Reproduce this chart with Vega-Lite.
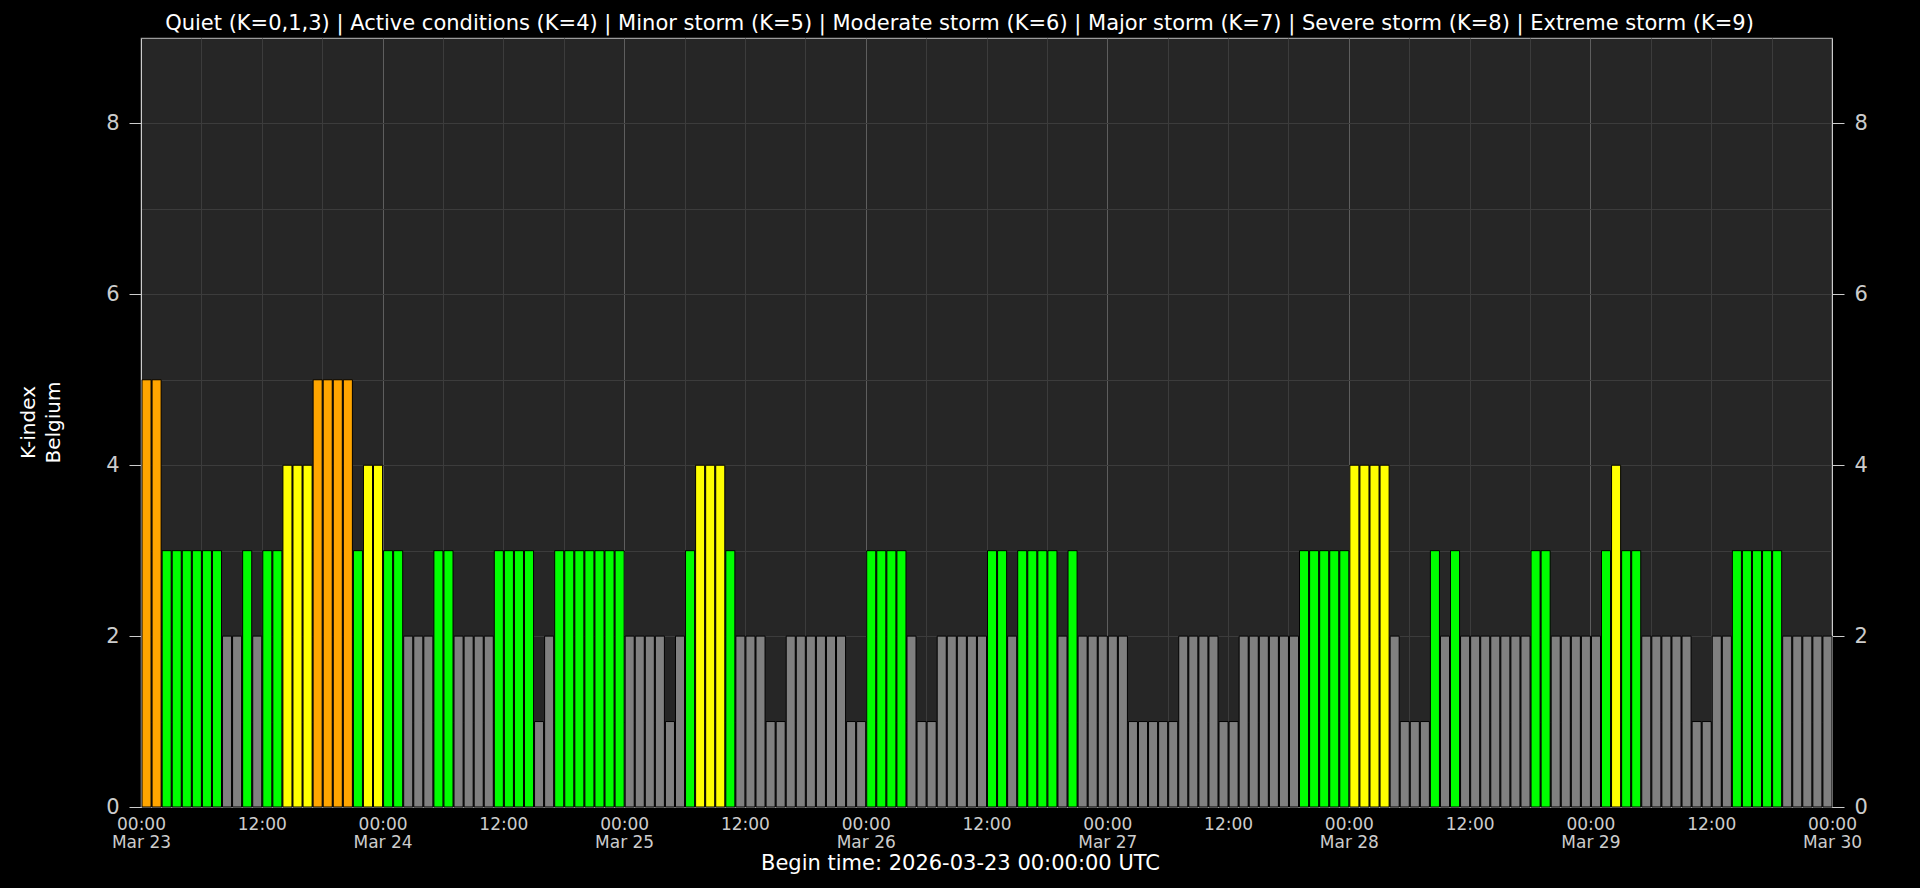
{
  "$schema": "https://vega.github.io/schema/vega-lite/v6.json",
  "width": 1691,
  "height": 769,
  "autosize": "none",
  "padding": {"left": 141, "top": 38, "right": 88, "bottom": 81},
  "background": "#000000",
  "config": {
    "font": "DejaVu Sans",
    "view": {"fill": "#262626", "stroke": "#9a9a9a", "strokeWidth": 1.2}
  },
  "data": {
    "values": [
      {"t": "2026-03-23T00:00:00Z", "k": 5}, {"t": "2026-03-23T01:00:00Z", "k": 5}, {"t": "2026-03-23T02:00:00Z", "k": 3}, {"t": "2026-03-23T03:00:00Z", "k": 3},
      {"t": "2026-03-23T04:00:00Z", "k": 3}, {"t": "2026-03-23T05:00:00Z", "k": 3}, {"t": "2026-03-23T06:00:00Z", "k": 3}, {"t": "2026-03-23T07:00:00Z", "k": 3},
      {"t": "2026-03-23T08:00:00Z", "k": 2}, {"t": "2026-03-23T09:00:00Z", "k": 2}, {"t": "2026-03-23T10:00:00Z", "k": 3}, {"t": "2026-03-23T11:00:00Z", "k": 2},
      {"t": "2026-03-23T12:00:00Z", "k": 3}, {"t": "2026-03-23T13:00:00Z", "k": 3}, {"t": "2026-03-23T14:00:00Z", "k": 4}, {"t": "2026-03-23T15:00:00Z", "k": 4},
      {"t": "2026-03-23T16:00:00Z", "k": 4}, {"t": "2026-03-23T17:00:00Z", "k": 5}, {"t": "2026-03-23T18:00:00Z", "k": 5}, {"t": "2026-03-23T19:00:00Z", "k": 5},
      {"t": "2026-03-23T20:00:00Z", "k": 5}, {"t": "2026-03-23T21:00:00Z", "k": 3}, {"t": "2026-03-23T22:00:00Z", "k": 4}, {"t": "2026-03-23T23:00:00Z", "k": 4},
      {"t": "2026-03-24T00:00:00Z", "k": 3}, {"t": "2026-03-24T01:00:00Z", "k": 3}, {"t": "2026-03-24T02:00:00Z", "k": 2}, {"t": "2026-03-24T03:00:00Z", "k": 2},
      {"t": "2026-03-24T04:00:00Z", "k": 2}, {"t": "2026-03-24T05:00:00Z", "k": 3}, {"t": "2026-03-24T06:00:00Z", "k": 3}, {"t": "2026-03-24T07:00:00Z", "k": 2},
      {"t": "2026-03-24T08:00:00Z", "k": 2}, {"t": "2026-03-24T09:00:00Z", "k": 2}, {"t": "2026-03-24T10:00:00Z", "k": 2}, {"t": "2026-03-24T11:00:00Z", "k": 3},
      {"t": "2026-03-24T12:00:00Z", "k": 3}, {"t": "2026-03-24T13:00:00Z", "k": 3}, {"t": "2026-03-24T14:00:00Z", "k": 3}, {"t": "2026-03-24T15:00:00Z", "k": 1},
      {"t": "2026-03-24T16:00:00Z", "k": 2}, {"t": "2026-03-24T17:00:00Z", "k": 3}, {"t": "2026-03-24T18:00:00Z", "k": 3}, {"t": "2026-03-24T19:00:00Z", "k": 3},
      {"t": "2026-03-24T20:00:00Z", "k": 3}, {"t": "2026-03-24T21:00:00Z", "k": 3}, {"t": "2026-03-24T22:00:00Z", "k": 3}, {"t": "2026-03-24T23:00:00Z", "k": 3},
      {"t": "2026-03-25T00:00:00Z", "k": 2}, {"t": "2026-03-25T01:00:00Z", "k": 2}, {"t": "2026-03-25T02:00:00Z", "k": 2}, {"t": "2026-03-25T03:00:00Z", "k": 2},
      {"t": "2026-03-25T04:00:00Z", "k": 1}, {"t": "2026-03-25T05:00:00Z", "k": 2}, {"t": "2026-03-25T06:00:00Z", "k": 3}, {"t": "2026-03-25T07:00:00Z", "k": 4},
      {"t": "2026-03-25T08:00:00Z", "k": 4}, {"t": "2026-03-25T09:00:00Z", "k": 4}, {"t": "2026-03-25T10:00:00Z", "k": 3}, {"t": "2026-03-25T11:00:00Z", "k": 2},
      {"t": "2026-03-25T12:00:00Z", "k": 2}, {"t": "2026-03-25T13:00:00Z", "k": 2}, {"t": "2026-03-25T14:00:00Z", "k": 1}, {"t": "2026-03-25T15:00:00Z", "k": 1},
      {"t": "2026-03-25T16:00:00Z", "k": 2}, {"t": "2026-03-25T17:00:00Z", "k": 2}, {"t": "2026-03-25T18:00:00Z", "k": 2}, {"t": "2026-03-25T19:00:00Z", "k": 2},
      {"t": "2026-03-25T20:00:00Z", "k": 2}, {"t": "2026-03-25T21:00:00Z", "k": 2}, {"t": "2026-03-25T22:00:00Z", "k": 1}, {"t": "2026-03-25T23:00:00Z", "k": 1},
      {"t": "2026-03-26T00:00:00Z", "k": 3}, {"t": "2026-03-26T01:00:00Z", "k": 3}, {"t": "2026-03-26T02:00:00Z", "k": 3}, {"t": "2026-03-26T03:00:00Z", "k": 3},
      {"t": "2026-03-26T04:00:00Z", "k": 2}, {"t": "2026-03-26T05:00:00Z", "k": 1}, {"t": "2026-03-26T06:00:00Z", "k": 1}, {"t": "2026-03-26T07:00:00Z", "k": 2},
      {"t": "2026-03-26T08:00:00Z", "k": 2}, {"t": "2026-03-26T09:00:00Z", "k": 2}, {"t": "2026-03-26T10:00:00Z", "k": 2}, {"t": "2026-03-26T11:00:00Z", "k": 2},
      {"t": "2026-03-26T12:00:00Z", "k": 3}, {"t": "2026-03-26T13:00:00Z", "k": 3}, {"t": "2026-03-26T14:00:00Z", "k": 2}, {"t": "2026-03-26T15:00:00Z", "k": 3},
      {"t": "2026-03-26T16:00:00Z", "k": 3}, {"t": "2026-03-26T17:00:00Z", "k": 3}, {"t": "2026-03-26T18:00:00Z", "k": 3}, {"t": "2026-03-26T19:00:00Z", "k": 2},
      {"t": "2026-03-26T20:00:00Z", "k": 3}, {"t": "2026-03-26T21:00:00Z", "k": 2}, {"t": "2026-03-26T22:00:00Z", "k": 2}, {"t": "2026-03-26T23:00:00Z", "k": 2},
      {"t": "2026-03-27T00:00:00Z", "k": 2}, {"t": "2026-03-27T01:00:00Z", "k": 2}, {"t": "2026-03-27T02:00:00Z", "k": 1}, {"t": "2026-03-27T03:00:00Z", "k": 1},
      {"t": "2026-03-27T04:00:00Z", "k": 1}, {"t": "2026-03-27T05:00:00Z", "k": 1}, {"t": "2026-03-27T06:00:00Z", "k": 1}, {"t": "2026-03-27T07:00:00Z", "k": 2},
      {"t": "2026-03-27T08:00:00Z", "k": 2}, {"t": "2026-03-27T09:00:00Z", "k": 2}, {"t": "2026-03-27T10:00:00Z", "k": 2}, {"t": "2026-03-27T11:00:00Z", "k": 1},
      {"t": "2026-03-27T12:00:00Z", "k": 1}, {"t": "2026-03-27T13:00:00Z", "k": 2}, {"t": "2026-03-27T14:00:00Z", "k": 2}, {"t": "2026-03-27T15:00:00Z", "k": 2},
      {"t": "2026-03-27T16:00:00Z", "k": 2}, {"t": "2026-03-27T17:00:00Z", "k": 2}, {"t": "2026-03-27T18:00:00Z", "k": 2}, {"t": "2026-03-27T19:00:00Z", "k": 3},
      {"t": "2026-03-27T20:00:00Z", "k": 3}, {"t": "2026-03-27T21:00:00Z", "k": 3}, {"t": "2026-03-27T22:00:00Z", "k": 3}, {"t": "2026-03-27T23:00:00Z", "k": 3},
      {"t": "2026-03-28T00:00:00Z", "k": 4}, {"t": "2026-03-28T01:00:00Z", "k": 4}, {"t": "2026-03-28T02:00:00Z", "k": 4}, {"t": "2026-03-28T03:00:00Z", "k": 4},
      {"t": "2026-03-28T04:00:00Z", "k": 2}, {"t": "2026-03-28T05:00:00Z", "k": 1}, {"t": "2026-03-28T06:00:00Z", "k": 1}, {"t": "2026-03-28T07:00:00Z", "k": 1},
      {"t": "2026-03-28T08:00:00Z", "k": 3}, {"t": "2026-03-28T09:00:00Z", "k": 2}, {"t": "2026-03-28T10:00:00Z", "k": 3}, {"t": "2026-03-28T11:00:00Z", "k": 2},
      {"t": "2026-03-28T12:00:00Z", "k": 2}, {"t": "2026-03-28T13:00:00Z", "k": 2}, {"t": "2026-03-28T14:00:00Z", "k": 2}, {"t": "2026-03-28T15:00:00Z", "k": 2},
      {"t": "2026-03-28T16:00:00Z", "k": 2}, {"t": "2026-03-28T17:00:00Z", "k": 2}, {"t": "2026-03-28T18:00:00Z", "k": 3}, {"t": "2026-03-28T19:00:00Z", "k": 3},
      {"t": "2026-03-28T20:00:00Z", "k": 2}, {"t": "2026-03-28T21:00:00Z", "k": 2}, {"t": "2026-03-28T22:00:00Z", "k": 2}, {"t": "2026-03-28T23:00:00Z", "k": 2},
      {"t": "2026-03-29T00:00:00Z", "k": 2}, {"t": "2026-03-29T01:00:00Z", "k": 3}, {"t": "2026-03-29T02:00:00Z", "k": 4}, {"t": "2026-03-29T03:00:00Z", "k": 3},
      {"t": "2026-03-29T04:00:00Z", "k": 3}, {"t": "2026-03-29T05:00:00Z", "k": 2}, {"t": "2026-03-29T06:00:00Z", "k": 2}, {"t": "2026-03-29T07:00:00Z", "k": 2},
      {"t": "2026-03-29T08:00:00Z", "k": 2}, {"t": "2026-03-29T09:00:00Z", "k": 2}, {"t": "2026-03-29T10:00:00Z", "k": 1}, {"t": "2026-03-29T11:00:00Z", "k": 1},
      {"t": "2026-03-29T12:00:00Z", "k": 2}, {"t": "2026-03-29T13:00:00Z", "k": 2}, {"t": "2026-03-29T14:00:00Z", "k": 3}, {"t": "2026-03-29T15:00:00Z", "k": 3},
      {"t": "2026-03-29T16:00:00Z", "k": 3}, {"t": "2026-03-29T17:00:00Z", "k": 3}, {"t": "2026-03-29T18:00:00Z", "k": 3}, {"t": "2026-03-29T19:00:00Z", "k": 2},
      {"t": "2026-03-29T20:00:00Z", "k": 2}, {"t": "2026-03-29T21:00:00Z", "k": 2}, {"t": "2026-03-29T22:00:00Z", "k": 2}, {"t": "2026-03-29T23:00:00Z", "k": 2}
    ]
  },
  "layer": [
    {
      "mark": {"type": "bar", "stroke": "#000000", "strokeWidth": 1},
      "encoding": {
        "x": {
          "field": "t",
          "type": "temporal",
          "timeUnit": "utcyearmonthdatehours",
          "scale": {
            "domain": [
              {"year": 2026, "month": 3, "date": 23, "hours": 0, "utc": true},
              {"year": 2026, "month": 3, "date": 30, "hours": 0, "utc": true}
            ],
            "nice": false
          },
          "axis": {
            "tickCount": 28,
            "labelExpr": "utchours(datum.value) == 0 ? [utcFormat(datum.value, '%H:%M'), utcFormat(datum.value, '%b %d')] : (utchours(datum.value) == 12 ? utcFormat(datum.value, '%H:%M') : '')",
            "labelOverlap": false,
            "labelFlush": false,
            "labelBound": false,
            "labelAngle": 0,
            "labelAlign": "center",
            "labelBaseline": "top",
            "labelPadding": 9,
            "labelFontSize": 17,
            "labelLineHeight": 18,
            "labelColor": "#cccccc",
            "labelFont": "DejaVu Sans",
            "ticks": false,
            "domain": true,
            "domainColor": "#9a9a9a",
            "grid": true,
            "gridColor": {"condition": {"test": "utchours(datum.value) == 0", "value": "#5e5e5e"}, "value": "#3c3c3c"},
            "gridWidth": 1,
            "title": "Begin time: 2026-03-23 00:00:00 UTC",
            "titleX": 819,
            "titleY": 62,
            "titleAlign": "center",
            "titleBaseline": "alphabetic",
            "titleFontSize": 21,
            "titleFontWeight": "normal",
            "titleColor": "#ffffff",
            "titleFont": "DejaVu Sans"
          }
        },
        "y": {
          "field": "k",
          "type": "quantitative",
          "scale": {"domain": [0, 9], "nice": false, "zero": true},
          "axis": {
            "values": [0, 1, 2, 3, 4, 5, 6, 7, 8],
            "labelExpr": "datum.value % 2 == 0 ? datum.label : ''",
            "labelFontSize": 21,
            "labelColor": "#cccccc",
            "labelFont": "DejaVu Sans",
            "labelPadding": 10,
            "tickSize": 12,
            "tickColor": {"condition": {"test": "datum.value % 2 == 0", "value": "#cccccc"}, "value": "transparent"},
            "domainColor": "#cccccc",
            "grid": true,
            "gridColor": "#3c3c3c",
            "title": ["K-index", "Belgium"],
            "titleAngle": -90,
            "titleX": -113,
            "titleY": 384,
            "titleAlign": "center",
            "titleBaseline": "middle",
            "titleFontSize": 20,
            "titleFontWeight": "normal",
            "titleColor": "#ffffff",
            "titleLineHeight": 25,
            "titleFont": "DejaVu Sans"
          }
        },
        "color": {
          "field": "k",
          "type": "ordinal",
          "scale": {"domain": [0, 1, 2, 3, 4, 5, 6, 7, 8, 9], "range": ["#808080", "#808080", "#808080", "#00ff00", "#ffff00", "#ffa500", "#ff4500", "#ff0000", "#b22222", "#8b0000"]},
          "legend": null
        }
      }
    },
    {
      "mark": {"type": "bar", "opacity": 0},
      "encoding": {
        "x": {
          "field": "t",
          "type": "temporal",
          "timeUnit": "utcyearmonthdatehours",
          "axis": {
            "orient": "top",
            "labels": false,
            "ticks": false,
            "domain": false,
            "grid": false,
            "title": "Quiet (K=0,1,3) | Active conditions (K=4) | Minor storm (K=5) | Moderate storm (K=6) | Major storm (K=7) | Severe storm (K=8) | Extreme storm (K=9)",
            "titleX": 818,
            "titleY": -9,
            "titleAlign": "center",
            "titleBaseline": "alphabetic",
            "titleFontSize": 21,
            "titleFontWeight": "normal",
            "titleColor": "#ffffff",
            "titleFont": "DejaVu Sans"
          }
        },
        "y": {
          "field": "k",
          "type": "quantitative",
          "axis": {
            "orient": "right",
            "values": [0, 2, 4, 6, 8],
            "labelFontSize": 21,
            "labelColor": "#cccccc",
            "labelFont": "DejaVu Sans",
            "labelPadding": 10,
            "tickSize": 12,
            "tickColor": "#cccccc",
            "domainColor": "#cccccc",
            "grid": false,
            "title": null
          }
        }
      }
    }
  ],
  "resolve": {"axis": {"x": "independent", "y": "independent"}}
}
